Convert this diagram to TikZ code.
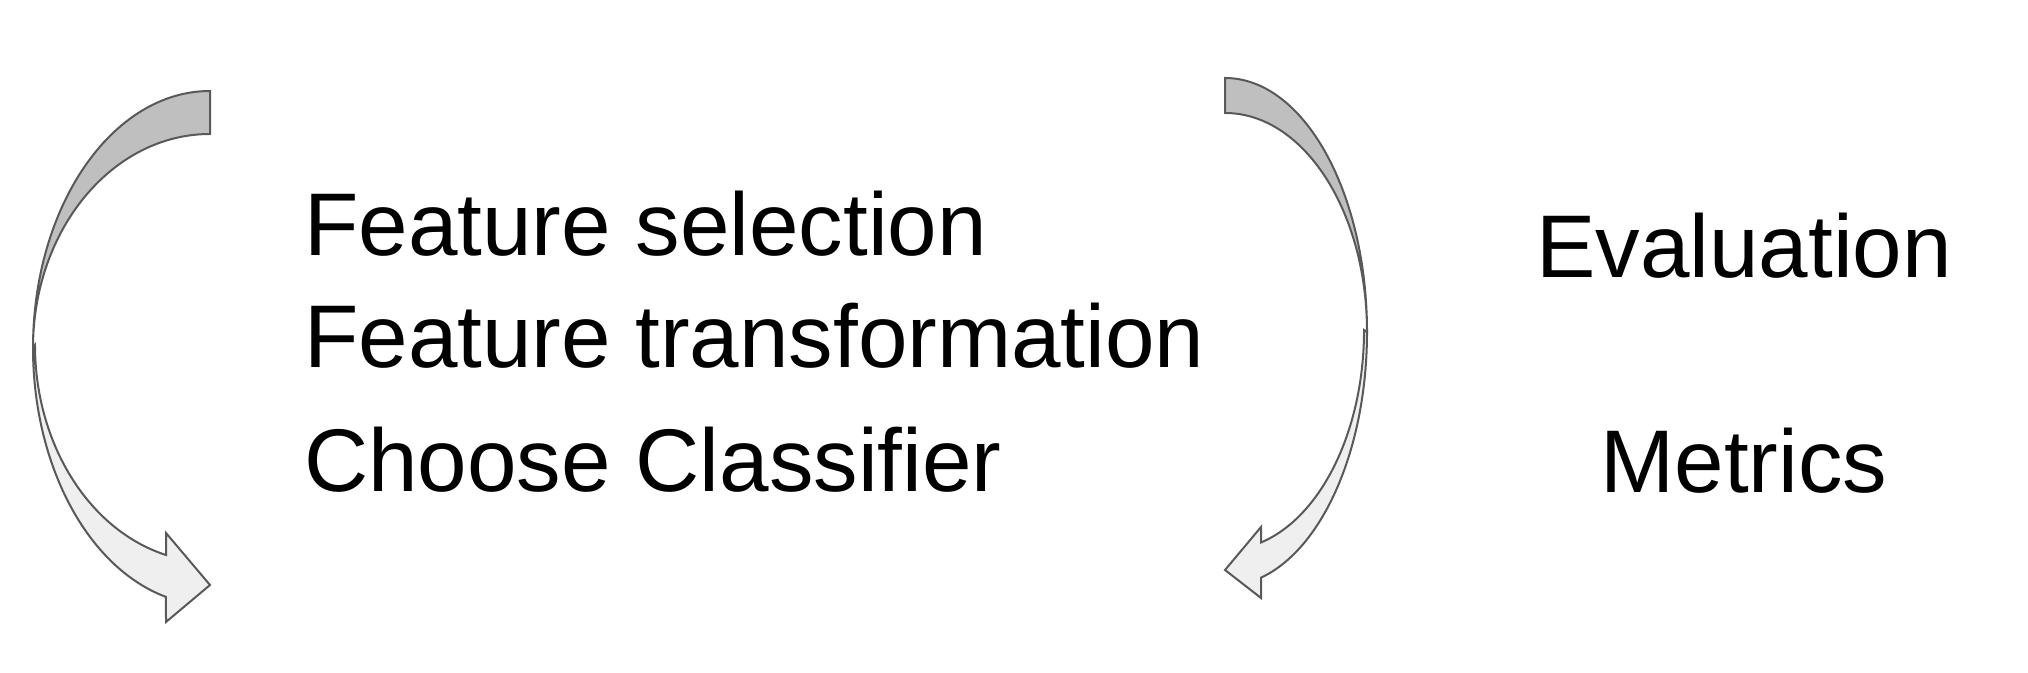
\documentclass[tikz,border=0pt]{standalone}
\usepackage{fontspec}
\setmainfont{Liberation Sans}
\definecolor{arrowdark}{HTML}{BFBFBF}
\definecolor{arrowlight}{HTML}{EFEFEF}
\definecolor{arrowline}{HTML}{595959}
\begin{document}
\begin{tikzpicture}[x=1pt,y=1pt,
    back/.style={fill=arrowdark,draw=arrowline,line width=2},
    front/.style={fill=arrowlight,draw=arrowline,line width=2},
    txt/.style={inner sep=0,font=\fontsize{89}{107}\selectfont}]
    \useasboundingbox (0,0) rectangle (2028,672);
    % left arrow
    \def\cx{210} \def\cy{324} \def\rx{177} \def\ro{257} \def\ri{214}
    \draw[back] (\cx,\cy+\ro) arc[start angle=90,end angle=180,x radius=\rx,y radius=\ro]
        arc[start angle=180,end angle=90,x radius=\rx,y radius=\ri] -- cycle;
    \draw[front] (\cx-\rx,\cy) arc[start angle=180,end angle=255.6,x radius=\rx,y radius=\ro]
        -- (166,50) -- (210,87) -- (166,139) -- (166,117)
        arc[start angle=255.44,end angle=180,x radius=175,y radius=217] -- cycle;
    % right arrow
    \def\cx{1225} \def\cy{340} \def\rx{142} \def\ro{254} \def\ri{219}
    \draw[back] (\cx,\cy+\ro) arc[start angle=90,end angle=0,x radius=\rx,y radius=\ro]
        arc[start angle=0,end angle=90,x radius=\rx,y radius=\ri] -- cycle;
    \draw[front] (\cx+\rx,\cy) arc[start angle=0,end angle=-75.3,x radius=\rx,y radius=\ro]
        -- (1261,74) -- (1225,102) -- (1261,145) -- (1261,129.5)
        arc[start angle=-75,end angle=0,x radius=139,y radius=220] -- cycle;
    % texts
    \node[txt,anchor=base west] (sel) at (304,416) {Feature selection};
    \node[txt,anchor=base west] (trans) at (304,304) {Feature transformation};
    \node[txt,anchor=base west] (clf) at (304,180) {Choose Classifier};
    \node[txt,anchor=base] (eval) at (1744,394) {Evaluation};
    \node[txt,anchor=base] (metrics) at (1744,179) {Metrics};
\end{tikzpicture}
\end{document}
